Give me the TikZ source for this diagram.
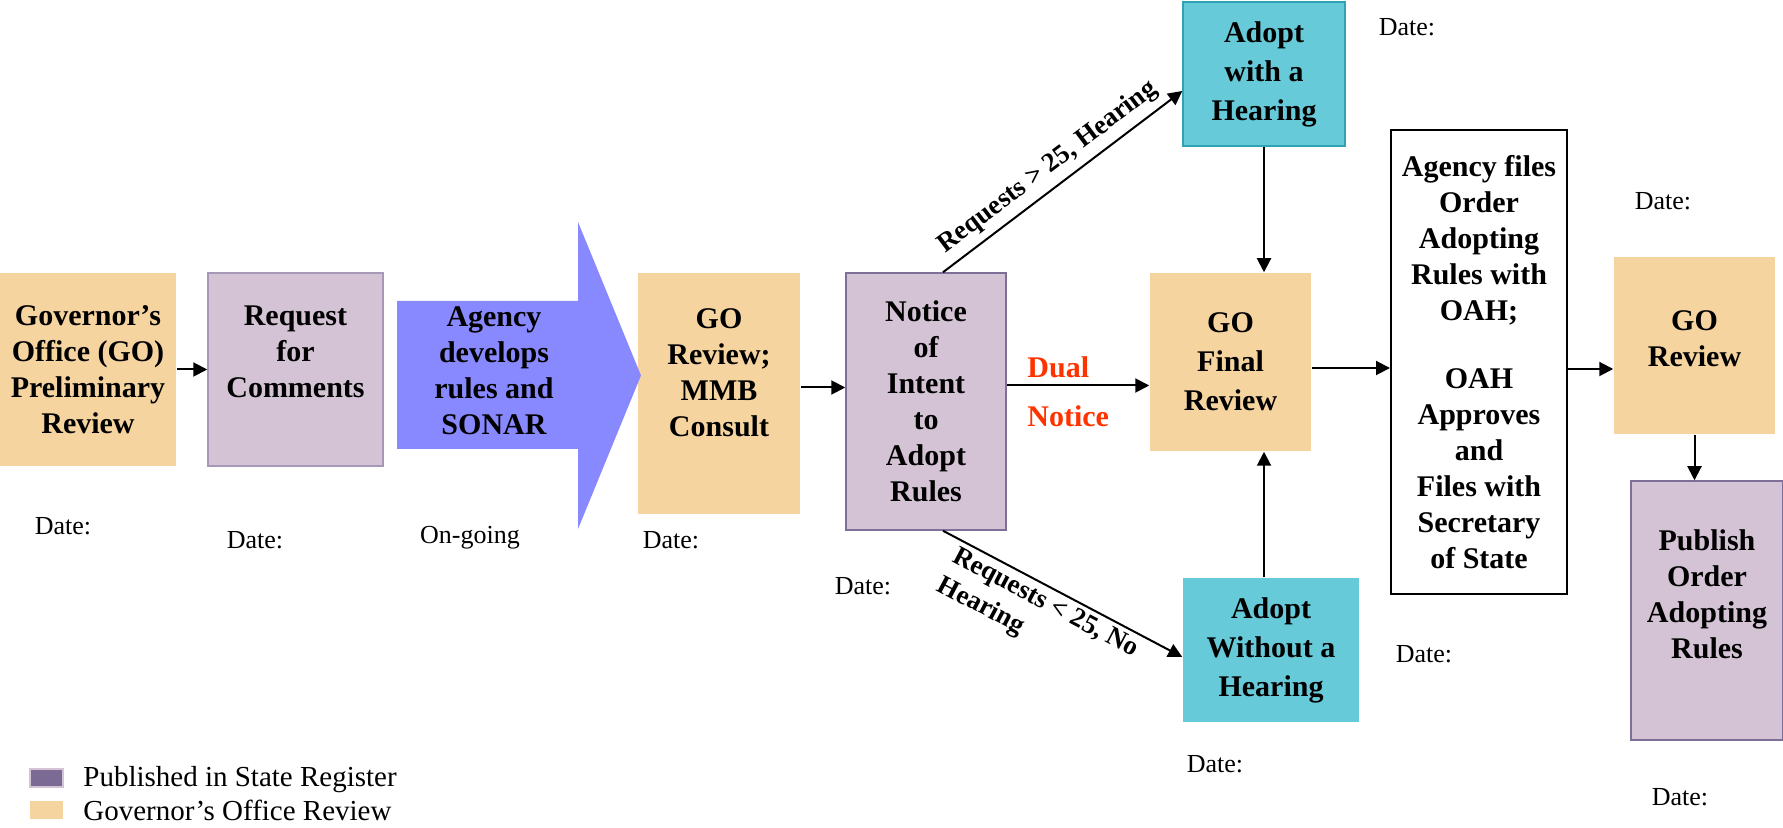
\documentclass[tikz,border=0pt]{standalone}
\usepackage{fontspec}
\setmainfont{Liberation Serif}
\usetikzlibrary{arrows.meta}

\definecolor{goorange}{HTML}{F6D4A0}
\definecolor{regpurple}{HTML}{D4C3D5}
\definecolor{regborder}{HTML}{7D6F98}
\definecolor{reqborder}{HTML}{A898B8}
\definecolor{devblue}{HTML}{8888FF}
\definecolor{adoptteal}{HTML}{66CAD8}
\definecolor{tealborder}{HTML}{2FA3B4}
\definecolor{noticered}{HTML}{FF3300}
\definecolor{keypurple}{HTML}{7B6A93}

\newcommand{\flowfont}{\fontsize{15}{18}\selectfont\bfseries}
\newcommand{\tallfont}{\fontsize{15}{19.5}\selectfont\bfseries}
\newcommand{\whenfont}{\fontsize{13}{15}\selectfont}
\newcommand{\pathfont}{\fontsize{13.5}{16.5}\selectfont\bfseries}
\newcommand{\keyfont}{\fontsize{14.5}{15}\selectfont}

\tikzstyle{box}=[draw, line width=0.75pt, align=center, font=\flowfont, inner sep=0pt]
\tikzstyle{gobox}=[box, draw=none, fill=goorange]
\tikzstyle{regbox}=[box, fill=regpurple, draw=regborder]
\tikzstyle{adoptbox}=[box, fill=adoptteal, draw=tealborder, font=\tallfont]
\tikzstyle{boxtext}=[align=center, font=\flowfont, inner sep=0pt]
\tikzstyle{when}=[font=\whenfont, inner sep=0pt]
\tikzstyle{arr}=[-{Triangle[length=7pt,width=7pt]}, line width=1pt]
\tikzstyle{pathlbl}=[font=\pathfont, align=left, sloped]
\tikzstyle{dualnote}=[font=\flowfont, text=noticered, inner sep=0pt, anchor=west]
\tikzstyle{keybox}=[minimum width=16.5pt, minimum height=9pt, inner sep=0pt]
\tikzstyle{keytext}=[font=\keyfont, inner sep=0pt, anchor=west]

\begin{document}
\begin{tikzpicture}[x=0.5pt, y=-0.5pt]
            \useasboundingbox (0,0) rectangle (1783,828);
            \node[gobox, minimum width=88pt, minimum height=96.5pt] (gopre) at (88,369.5) {Governor’s\\Office (GO)\\Preliminary\\Review};
            \node[regbox, draw=reqborder, minimum width=87.5pt, minimum height=96.5pt] (req) at (295.5,369.5) {};
            \node[boxtext] (reqtext) at (295.5,352) {Request\\for\\Comments};
            \node[gobox, minimum width=81pt, minimum height=120.5pt] (gomm) at (719,393.5) {};
            \fill[devblue] (397,301) -- (578,301) -- (578,222) -- (641,375.5) -- (578,529) -- (578,449) -- (397,449) -- cycle;
            \node[boxtext] (develop) at (494,371) {Agency\\develops\\rules and\\SONAR};
            \node[boxtext] (gommtext) at (719,373) {GO\\Review;\\MMB\\Consult};
            \node[regbox, minimum width=80pt, minimum height=128.5pt] (notice) at (926,401.5) {Notice\\of\\Intent\\to\\Adopt\\Rules};
            \node[adoptbox, minimum width=81pt, minimum height=72pt] (adoptw) at (1264,74) {Adopt\\with a\\Hearing};
            \node[gobox, font=\tallfont, minimum width=80.5pt, minimum height=89pt] (gofinal) at (1230.5,362) {GO\\Final\\Review};
            \node[adoptbox, draw=none, minimum width=88pt, minimum height=72pt] (adoptwo) at (1271,650) {Adopt\\Without a\\Hearing};
            \node[box, line width=1pt, minimum width=88pt, minimum height=232pt] (oah) at (1479,362) {Agency files\\Order\\Adopting\\Rules with\\OAH;\\[16pt]OAH\\Approves\\and\\Files with\\Secretary\\of State};
            \node[gobox, minimum width=80.5pt, minimum height=88.5pt] (gorev) at (1694.5,345.5) {};
            \node[boxtext] (gorevtext) at (1694.5,339) {GO\\Review};
            \node[regbox, minimum width=76pt, minimum height=129.5pt] (publish) at (1707,610.5) {};
            \node[boxtext] (publishtext) at (1707,594) {Publish\\Order\\Adopting\\Rules};

            \draw[arr] (gopre) -- (req);
            \draw[arr] ([yshift=3pt]gomm.east) -- ([yshift=3pt]gomm.east -| notice.west);
            \draw[arr] ([yshift=8pt]notice.east) -- ([yshift=8pt]notice.east -| gofinal.west);
            \draw[arr] ([xshift=8.5pt]notice.north) -- node[pathlbl, above, pos=0.49] {Requests > 25, Hearing} ([yshift=-8.5pt]adoptw.west);
            \draw[arr] ([xshift=8.5pt]notice.south) -- node[pathlbl, below=2pt, pos=0.46, inner sep=0pt] {Requests < 25, No\\Hearing} ([yshift=-3.5pt]adoptwo.west);
            \draw[arr] (adoptw.south) -- (adoptw.south |- gofinal.north);
            \draw[arr] (adoptwo.north -| adoptw) -- (adoptw |- gofinal.south);
            \draw[arr] ([yshift=-3pt]gofinal.east) -- ([yshift=-3pt]gofinal.east -| oah.west);
            \draw[arr] ([yshift=-3.5pt]oah.east) -- ([yshift=-3.5pt]oah.east -| gorev.west);
            \draw[arr] (gorev.south) -- (gorev.south |- publish.north);

            \node[dualnote] (dual) at (1027,367) {Dual};
            \node[dualnote] (dualnotice) at (1027,416) {Notice};

            \node[when] (when1) at (63,526) {Date:};
            \node[when] (when2) at (255,540) {Date:};
            \node[when] (ongoing) at (470,538) {On-going};
            \node[when] (when3) at (671,540) {Date:};
            \node[when] (when4) at (863,586) {Date:};
            \node[when] (when5) at (1407,27) {Date:};
            \node[when] (when6) at (1663,201) {Date:};
            \node[when] (when7) at (1424,654) {Date:};
            \node[when] (when8) at (1215,764) {Date:};
            \node[when] (when9) at (1680,797) {Date:};

            \node[keybox, fill=keypurple, draw=regpurple, line width=1pt] (keyreg) at (46.5,778) {};
            \node[keybox, fill=goorange] (keygo) at (46.5,810) {};
            \node[keytext] (keyregtext) at (83,780) {Published in State Register};
            \node[keytext] (keygotext) at (83,810) {Governor’s Office Review};
        \end{tikzpicture}
\end{document}
